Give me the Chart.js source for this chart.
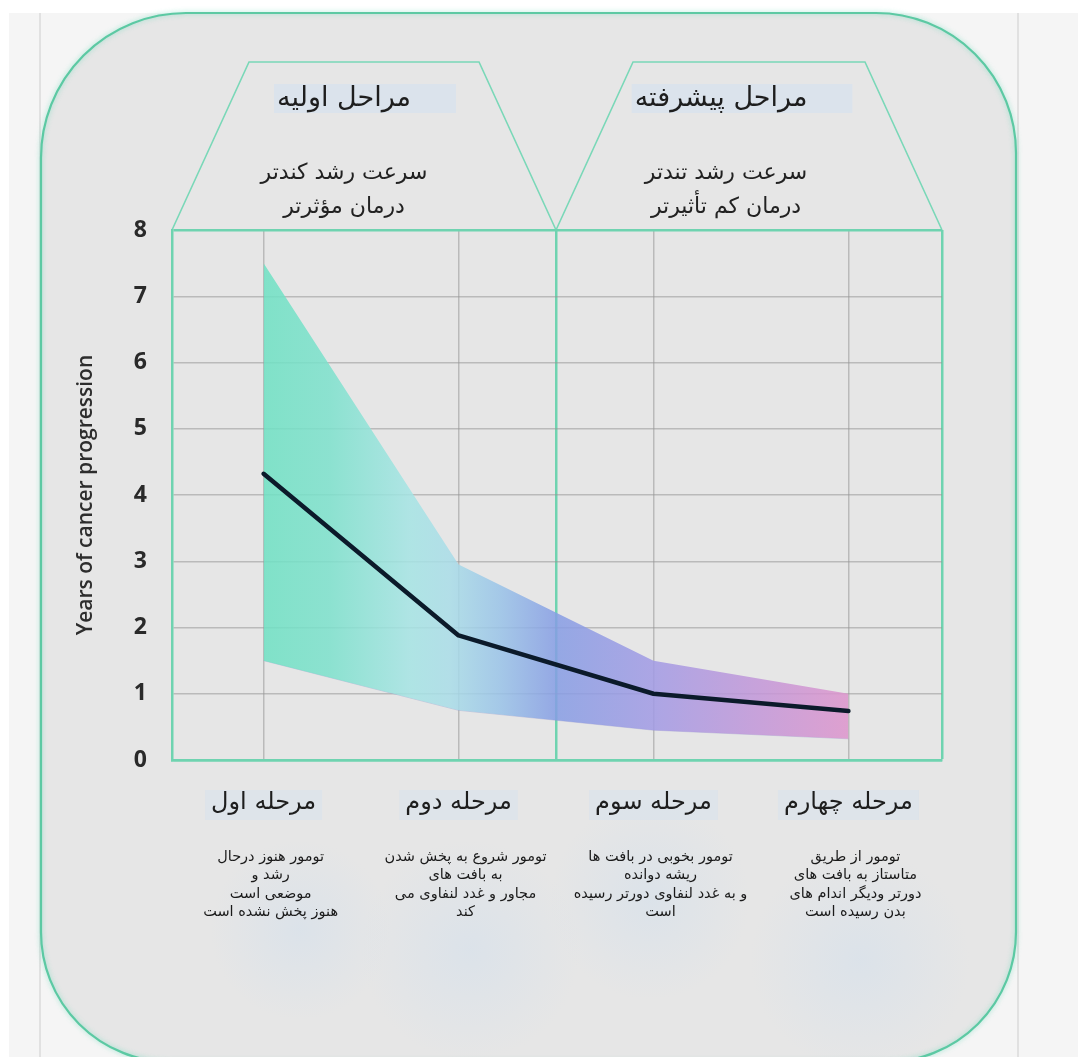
<!DOCTYPE html>
<html><head><meta charset="utf-8">
<script src="https://cdn.jsdelivr.net/npm/chart.js@4"></script>
<style>html,body{margin:0;padding:0;background:#fff}#wrap{width:1078px;height:1057px;position:relative}</style>
</head><body><div id="wrap"><canvas id="c"></canvas></div>
<script>
// ---- data ----
const stages = ['مرحله اول', 'مرحله دوم', 'مرحله سوم', 'مرحله چهارم'];
const stageIndex = [0, 1, 2, 3];
const medianYears = [4.32, 1.88, 1.0, 0.74];
const upperYears = [7.5, 2.95, 1.5, 1.0];
const lowerYears = [1.5, 0.75, 0.45, 0.32];
const yTicks = [0, 1, 2, 3, 4, 5, 6, 7, 8];
const xGridTicks = [0, 1, 1.5, 2, 3, 3.48];
const yTitle = 'Years of cancer progression';
const phaseTitles = ['مراحل اولیه', 'مراحل پیشرفته'];
const phaseNotes = [['سرعت رشد کندتر', 'درمان مؤثرتر'], ['سرعت رشد تندتر', 'درمان کم تأثیرتر']];
const stageNotes = [
  ['تومور هنوز درحال', 'رشد و', 'موضعی است', 'هنوز پخش نشده است'],
  ['تومور شروع به پخش شدن', 'به بافت های', 'مجاور و غدد لنفاوی می', 'کند'],
  ['تومور بخوبی در بافت ها', 'ریشه دوانده', 'و به غدد لنفاوی دورتر رسیده', 'است'],
  ['تومور از طریق', 'متاستاز به بافت های', 'دورتر ودیگر اندام های', 'بدن رسیده است']
];

// ---- styles ----
const GREEN = '#6fd3b0';
const GRAY = 'rgba(150,150,150,0.55)';
const FA = '"DejaVu Sans", sans-serif';
const toPts = vals => stageIndex.map((x, i) => ({x, y: vals[i]}));

function bandFill(ctx) {
  const chart = ctx.chart;
  const xs = chart.scales.x;
  if (!chart.chartArea || !xs) return 'rgba(130,200,210,0.8)';
  const x0 = xs.getPixelForValue(0), x1 = xs.getPixelForValue(3);
  const g = chart.ctx.createLinearGradient(x0, 0, x1, 0);
  const stops = [
    [0, 'rgba(110,225,195,0.85)'], [0.113, 'rgba(124,225,204,0.85)'],
    [0.25, 'rgba(165,228,228,0.85)'], [0.318, 'rgba(169,221,232,0.85)'],
    [0.404, 'rgba(153,195,232,0.85)'], [0.5, 'rgba(134,157,228,0.85)'],
    [0.67, 'rgba(162,154,228,0.85)'], [0.85, 'rgba(195,150,216,0.85)'],
    [1, 'rgba(221,148,204,0.85)']
  ];
  stops.forEach(s => g.addColorStop(s[0], s[1]));
  return g;
}

const decor = {
  id: 'decor',
  beforeDraw(chart) {
    const {ctx, width, height, chartArea: ca} = chart;
    const xs = chart.scales.x;
    ctx.save();
    ctx.fillStyle = '#f5f5f5'; ctx.fillRect(0, 0, width, height);
    ctx.fillStyle = '#ffffff'; ctx.fillRect(0, 0, width, 13); ctx.fillRect(0, 0, 9, height);
    ctx.strokeStyle = '#dadada'; ctx.lineWidth = 1.5;
    [40, 1018].forEach(x => { ctx.beginPath(); ctx.moveTo(x, 13); ctx.lineTo(x, height); ctx.stroke(); });
    // rounded frame
    ctx.beginPath();
    ctx.roundRect(41, 13, 975, 1049, [145, 140, 130, 130]);
    ctx.fillStyle = '#e6e6e6'; ctx.fill();
    ctx.save();
    ctx.shadowColor = 'rgba(110,220,190,0.7)'; ctx.shadowBlur = 5;
    ctx.strokeStyle = '#5cc9a3'; ctx.lineWidth = 2.2; ctx.stroke();
    ctx.restore();
    // faint watercolor blobs
    [[300, 930, 90], [470, 950, 110], [650, 900, 100], [860, 960, 110]].forEach(b => {
      const rg = ctx.createRadialGradient(b[0], b[1], 0, b[0], b[1], b[2]);
      rg.addColorStop(0, 'rgba(200,220,240,0.35)'); rg.addColorStop(1, 'rgba(200,220,240,0)');
      ctx.fillStyle = rg; ctx.fillRect(b[0] - b[2], b[1] - b[2], b[2] * 2, b[2] * 2);
    });
    // trapezoids
    const xm = xs.getPixelForValue(1.5);
    const topY = 62, inset = 77;
    ctx.strokeStyle = '#7ad8b8'; ctx.lineWidth = 1.6;
    [[ca.left, xm], [xm, ca.right]].forEach(p => {
      ctx.beginPath();
      ctx.moveTo(p[0], ca.top); ctx.lineTo(p[0] + inset, topY);
      ctx.lineTo(p[1] - inset, topY); ctx.lineTo(p[1], ca.top);
      ctx.stroke();
    });
    // phase headers
    ctx.direction = 'rtl'; ctx.textAlign = 'center'; ctx.textBaseline = 'middle';
    const centers = [(ca.left + xm) / 2 - 20, (xm + ca.right) / 2 - 28];
    phaseTitles.forEach((t, i) => {
      ctx.font = '500 27px ' + FA;
      const w = ctx.measureText(t).width;
      ctx.fillStyle = '#dbe3ec';
      ctx.fillRect(centers[i] - w / 2 - 3, 84, w + 48, 29);
      ctx.fillStyle = '#1e1e1e';
      ctx.fillText(t, centers[i], 99);
      ctx.font = '22px ' + FA;
      ctx.fillStyle = '#222';
      phaseNotes[i].forEach((n, j) => ctx.fillText(n, centers[i] + 5 * i, 173 + j * 34));
    });
    // faint highlight behind stage labels
    ctx.font = '24px ' + FA;
    stages.forEach((s, i) => {
      const cx = xs.getPixelForValue(i);
      const w = ctx.measureText(s).width;
      ctx.fillStyle = 'rgba(214,226,238,0.5)';
      ctx.fillRect(cx - w / 2 - 6, 790, w + 12, 30);
    });
    ctx.restore();
  },
  afterDraw(chart) {
    const {ctx} = chart;
    const xs = chart.scales.x;
    ctx.save();
    ctx.direction = 'rtl'; ctx.textAlign = 'center'; ctx.textBaseline = 'middle';
    ctx.font = '14.5px ' + FA; ctx.fillStyle = '#1a1a1a';
    stageNotes.forEach((lines, i) => {
      const cx = xs.getPixelForValue(i) + 7;
      lines.forEach((l, j) => ctx.fillText(l, cx, 857 + j * 18.5));
    });
    ctx.restore();
  }
};

new Chart(document.getElementById('c'), {
  type: 'line',
  data: {
    datasets: [
      { label: 'median', data: toPts(medianYears), borderColor: '#0b1a2a', borderWidth: 4.5,
        borderCapStyle: 'round', borderJoinStyle: 'round', pointRadius: 0, fill: false, tension: 0 },
      { label: 'upper', data: toPts(upperYears), borderWidth: 0, borderColor: 'rgba(0,0,0,0)',
        pointRadius: 0, fill: {target: 2}, backgroundColor: bandFill, tension: 0 },
      { label: 'lower', data: toPts(lowerYears), borderWidth: 1, borderColor: 'rgba(140,140,200,0.35)',
        pointRadius: 0, fill: false, tension: 0 }
    ]
  },
  options: {
    responsive: true, maintainAspectRatio: false, animation: false,
    layout: { padding: { left: 0, right: 136, top: 230, bottom: 237 } },
    plugins: { legend: { display: false }, tooltip: { enabled: false } },
    scales: {
      x: {
        type: 'linear', min: -0.47, max: 3.48,
        afterBuildTicks: s => { s.ticks = xGridTicks.map(v => ({value: v})); },
        afterFit: s => { s.height = 60; },
        ticks: { autoSkip: false, maxRotation: 0, minRotation: 0, padding: 28,
          font: { family: 'DejaVu Sans', size: 24 }, color: '#1e1e1e',
          callback: v => Number.isInteger(v) ? stages[v] : '' },
        grid: { drawTicks: false,
          color: c => (c.tick && (c.tick.value === 1.5 || c.tick.value === 3.48)) ? GREEN : GRAY,
          lineWidth: c => (c.tick && (c.tick.value === 1.5 || c.tick.value === 3.48)) ? 2.5 : 1.5 },
        border: { color: GREEN, width: 2.5 }
      },
      y: {
        min: 0, max: 8,
        afterBuildTicks: s => { s.ticks = yTicks.map(v => ({value: v})); },
        afterFit: s => { s.width = 172; },
        ticks: { padding: 25, font: { family: 'Open Sans', size: 23, weight: 'bold' }, color: '#2a2a2a' },
        grid: { drawTicks: false,
          color: c => (c.tick && (c.tick.value === 0 || c.tick.value === 8)) ? GREEN : GRAY,
          lineWidth: c => (c.tick && (c.tick.value === 0 || c.tick.value === 8)) ? 2.5 : 1.5 },
        border: { color: GREEN, width: 2.5 },
        title: { display: true, text: yTitle, color: '#2d2d2d',
          font: { family: 'Open Sans', size: 21, weight: '600' }, padding: { top: 73, bottom: 0 } }
      }
    }
  },
  plugins: [decor]
});
</script>
</body></html>
